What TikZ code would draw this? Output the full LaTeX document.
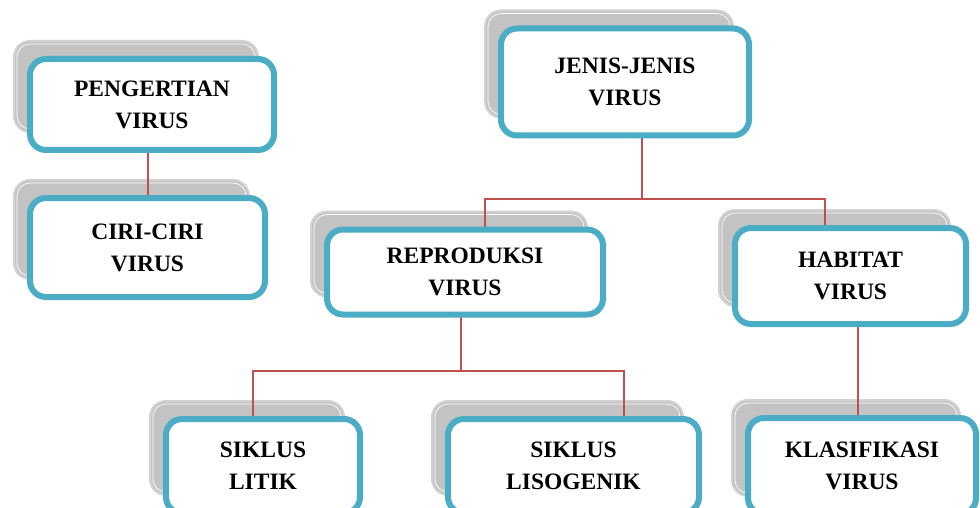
\documentclass[tikz,border=0pt]{standalone}
\usepackage{fontspec}
\setmainfont{Liberation Serif}
\usetikzlibrary{calc}
\definecolor{boxblue}{HTML}{4BACC6}
\definecolor{linered}{HTML}{C0504D}
\definecolor{shgray}{HTML}{C3C3C3}
\definecolor{shedge}{HTML}{D2D2D2}
\pgfdeclarelayer{shadowlayer}
\pgfdeclarelayer{linelayer}
\pgfsetlayers{shadowlayer,linelayer,main}
\tikzset{
  frontbox/.style={draw=boxblue, line width=6pt, fill=white, rounded corners=16pt,
    outer sep=0pt, inner sep=0pt, align=center,
    font=\fontsize{23.5}{32}\selectfont\bfseries},
  conn/.style={draw=linered, line width=2pt},
  shadowbox/.style={fill=shgray, draw=shedge, line width=2pt, rounded corners=16pt},
  shadowhi/.style={draw=white, line width=0.7pt, rounded corners=13pt}
}
\newcommand{\boxshadow}[1]{%
  \begin{pgfonlayer}{shadowlayer}
    \path[shadowbox] ($(#1.south west)+(-16,-18)$) rectangle ($(#1.north east)+(-16,-18)$);
    \path[shadowhi] ($(#1.south west)+(-13,-21)$) rectangle ($(#1.north east)+(-19,-15)$);
  \end{pgfonlayer}}
\begin{document}
\begin{tikzpicture}[x=1pt,y=-1pt]
\useasboundingbox (0,0) rectangle (980,508);
\begin{pgfonlayer}{shadowlayer}
\fill[white] (0,0) rectangle (980,508);
\end{pgfonlayer}

\node[frontbox, minimum width=244pt, minimum height=91pt] (pv) at (152,104.5) {PENGERTIAN\\VIRUS};
\node[frontbox, minimum width=235pt, minimum height=99pt] (cc) at (147.5,247.5) {CIRI-CIRI\\VIRUS};
\node[frontbox, minimum width=248pt, minimum height=107pt] (js) at (625,82) {JENIS-JENIS\\VIRUS};
\node[frontbox, minimum width=276pt, minimum height=85pt] (rp) at (465,272) {REPRODUKSI\\VIRUS};
\node[frontbox, minimum width=231pt, minimum height=96pt] (hb) at (850.5,276) {HABITAT\\VIRUS};
\node[frontbox, minimum width=228pt, minimum height=96pt] (kl) at (862,466) {KLASIFIKASI\\VIRUS};
\node[frontbox, minimum width=194pt, minimum height=94pt] (lt) at (263,466) {SIKLUS\\LITIK};
\node[frontbox, minimum width=251pt, minimum height=94pt] (ls) at (573.5,466) {SIKLUS\\LISOGENIK};

\boxshadow{pv}
\boxshadow{cc}
\boxshadow{js}
\boxshadow{rp}
\boxshadow{hb}
\boxshadow{kl}
\boxshadow{lt}
\boxshadow{ls}

\coordinate (bus1) at (642,199);
\coordinate (bus2) at (461,371);
\begin{pgfonlayer}{linelayer}
  \draw[conn] ($(cc.north |- pv.south)+(0.5,0)$) -- ($(cc.north)+(0.5,0)$);
  \draw[conn] ($(js.south)+(17,0)$) -- (bus1);
  \draw[conn] ($(rp.north)+(20,0)$) |- (bus1) -| ($(hb.north)+(-25.5,0)$);
  \draw[conn] ($(rp.south)+(-4,0)$) -- (bus2);
  \draw[conn] ($(lt.north)+(-10,0)$) |- (bus2) -| ($(ls.north)+(50.5,0)$);
  \draw[conn] ($(hb.south)+(7.5,0)$) -- ($(kl.north)+(-4,0)$);
\end{pgfonlayer}
\end{tikzpicture}
\end{document}
